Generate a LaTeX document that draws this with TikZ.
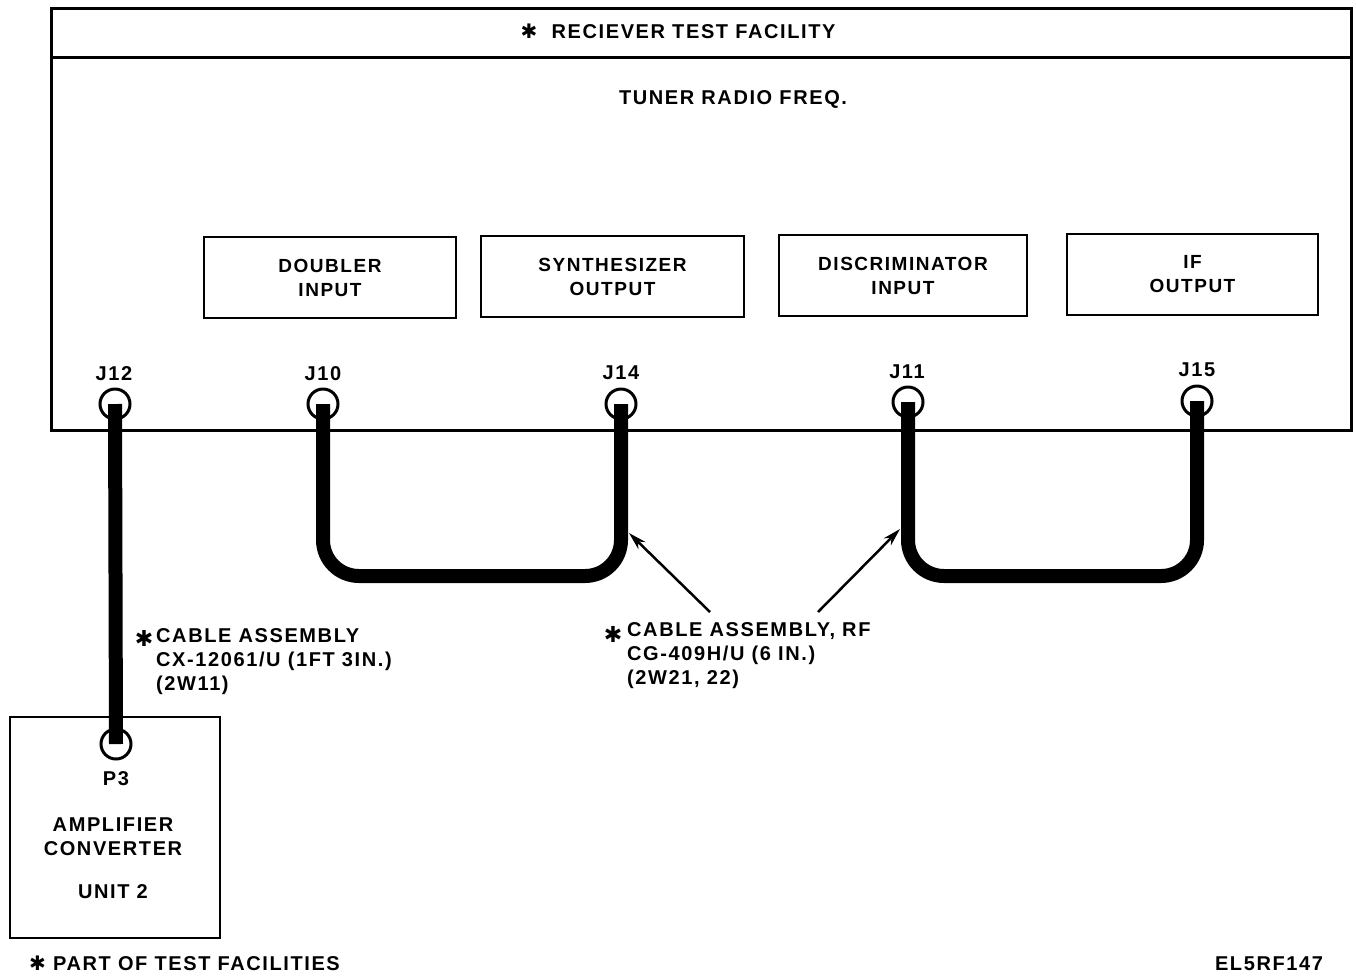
\documentclass[tikz,border=0pt]{standalone}
\usepackage{fontspec}
\setmainfont{Liberation Sans}[LetterSpace=8,UprightFont=* Bold]
\newfontfamily\symfont{DejaVu Sans}[UprightFont=* Bold]
\newcommand{\hstar}{{\symfont ✱}}
\usetikzlibrary{arrows.meta}
\tikzset{
  frame/.style={draw, line width=3pt, inner sep=0pt},
  unitbox/.style={draw, line width=2.5pt, inner sep=0pt, align=center, minimum height=81pt, font=\fontsize{19}{24}\selectfont},
  jack/.style={draw, circle, line width=3pt, minimum size=30pt, inner sep=0pt, fill=white},
  cable/.style={line width=14pt, line cap=butt},
  pointer/.style={line width=2.5pt, -{Stealth[length=18pt,width=10pt]}},
  lbl/.style={inner sep=0pt, align=center},
  lbll/.style={inner sep=0pt, align=left, anchor=west},
}
\begin{document}
\begin{tikzpicture}[x=1pt,y=-1pt,font=\fontsize{20}{24}\selectfont]
\useasboundingbox (0,0) rectangle (1356,975);
% facility frame
\node[frame, minimum width=1300pt, minimum height=422pt] (facility) at (701,219) {};
\coordinate (tl) at (51,57);
\coordinate (tr) at (1351,57);
\draw[line width=3pt] (tl) -- (tr);
\node[lbl] (title) at (678,31) {\hstar\ \ RECIEVER TEST FACILITY};
\node[lbl] (tuner) at (733,99) {TUNER RADIO FREQ.};
% unit boxes
\node[unitbox, minimum width=252pt] (doubler) at (330,277.5) {DOUBLER\\INPUT};
\node[unitbox, minimum width=263pt] (synth) at (612.5,276.5) {SYNTHESIZER\\OUTPUT};
\node[unitbox, minimum width=248pt] (disc) at (903,275.5) {DISCRIMINATOR\\INPUT};
\node[unitbox, minimum width=251pt] (ifout) at (1192.5,274.5) {IF\\OUTPUT};
% jack labels
\node[lbl] (lj12) at (114,374) {J12};
\node[lbl] (lj10) at (323,374) {J10};
\node[lbl] (lj14) at (621,373) {J14};
\node[lbl] (lj11) at (907,372) {J11};
\node[lbl] (lj15) at (1197,370) {J15};
% amplifier converter
\node[frame, line width=2.5pt, minimum width=210pt, minimum height=221pt] (amp) at (115,827.5) {};
\node[lbl] (p3lbl) at (116,779) {P3};
\node[lbl] (ampname) at (113,837) {AMPLIFIER\\CONVERTER};
\node[lbl] (unit) at (113,892) {UNIT 2};
% jacks
\node[jack] (j12) at (115,404) {};
\node[jack] (j10) at (323,404) {};
\node[jack] (j14) at (621,404) {};
\node[jack] (j11) at (908,402) {};
\node[jack] (j15) at (1197,401) {};
\node[jack] (p3) at (116,744) {};
% cables
\draw[cable] (j12.center) -- (p3.center);
\draw[cable, rounded corners=36pt] (j10.center) -- (j10.center |- 0,576) -- (j14.center |- 0,576) -- (j14.center);
\draw[cable, rounded corners=36pt] (j11.center) -- (j11.center |- 0,576) -- (j15.center |- 0,576) -- (j15.center);
% labels
\node[lbl, font=\fontsize{22}{24}\selectfont] (cxstar) at (144,638) {\hstar};
\node[lbll] (cxlabel) at (156,662) {CABLE ASSEMBLY\\CX-12061/U (1FT 3IN.)\\(2W11)};
\node[lbl, font=\fontsize{22}{24}\selectfont] (cgstar) at (613,634) {\hstar};
\node[lbll] (cglabel) at (627,656) {CABLE ASSEMBLY, RF\\CG-409H/U (6 IN.)\\(2W21, 22)};
\coordinate (tailA) at (710,612);
\coordinate (headA) at (629,533);
\coordinate (tailB) at (818,612);
\coordinate (headB) at (900,529);
\draw[pointer] (tailA) -- (headA);
\draw[pointer] (tailB) -- (headB);
% footnotes
\node[lbll] (note) at (29,963) {\hstar\ PART OF TEST FACILITIES};
\node[lbl] (figid) at (1269,964) {EL5RF147};
\end{tikzpicture}
\end{document}
